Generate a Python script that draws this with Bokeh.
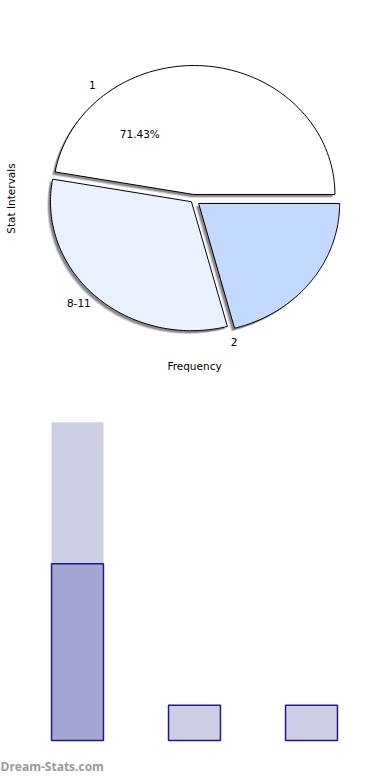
import numpy as np
from bokeh.plotting import figure
from bokeh.layouts import column
from bokeh.models import Range1d, FixedTicker, Title
from bokeh.core.properties import value
from bokeh.embed import file_html
from bokeh.resources import INLINE

# ---------------- data ----------------
pie_labels = ["1", "8-11", "2"]
pie_shares = [47.2, 31.9, 20.9]          # share of the drawn circle, percent
pie_colors = ["#FFFFFF", "#EAF1FE", "#C4D9FE"]

bar_factors = ["1", "8-11", "2"]
bar_freq = [5, 1, 1]
bar_back = [9, 0, 0]                      # light background bar behind the first column

FONT = "DejaVu Sans"

# ---------------- pie figure ----------------
p1 = figure(width=390, height=390, output_backend="svg", toolbar_location=None,
            x_range=Range1d(-155, 157), y_range=Range1d(-151, 153),
            min_border_left=38, min_border_right=40, min_border_top=46, min_border_bottom=40)
p1.outline_line_color = None
p1.grid.visible = False
for ax in (p1.xaxis[0], p1.yaxis[0]):
    ax.ticker = FixedTicker(ticks=[])
    ax.axis_line_color = None
    ax.major_tick_out = 0
    ax.major_tick_in = 0
    ax.minor_tick_out = 0
    ax.minor_tick_in = 0
    ax.major_label_text_font_size = "0px"
    ax.axis_label_text_font = FONT
    ax.axis_label_text_font_size = "10.5px"
    ax.axis_label_text_font_style = "normal"
    ax.axis_label_text_color = "#000000"
p1.xaxis.axis_label = "Frequency"
p1.xaxis.axis_label_standoff = 9
p1.yaxis.axis_label = "Stat Intervals"
p1.yaxis.axis_label_standoff = 22

RX, RY = 141, 129
explode = [5, 3, 6.5]
shares = np.array(pie_shares, dtype=float)
ends = np.cumsum(shares) / shares.sum() * 2 * np.pi
starts = np.concatenate([[0.0], ends[:-1]])

slice_xs, slice_ys = [], []
for a0, a1, ex in zip(starts, ends, explode):
    t = np.linspace(a0, a1, 90)
    mid = (a0 + a1) / 2
    ox, oy = ex * np.cos(mid), ex * np.sin(mid)
    slice_xs.append(np.concatenate([[0.0], RX * np.cos(t), [0.0]]) + ox)
    slice_ys.append(np.concatenate([[0.0], RY * np.sin(t), [0.0]]) + oy)

# shadow
for d, a in ((3.2, 0.3), (2.2, 0.55)):
    p1.patches([x - d for x in slice_xs], [y - d for y in slice_ys],
               fill_color="#555555", fill_alpha=a, line_color=None)
p1.patches(slice_xs, slice_ys, fill_color=pie_colors, line_color="#000000", line_width=1)

# labels
total = sum(bar_freq)
pct_text = f"{bar_freq[0] / total * 100:.2f}%"
lab_ang = np.deg2rad([129.0, 224.5, 284.6])
lab_r = 1.14
p1.text(x=list(RX * lab_r * np.cos(lab_ang)), y=list(RY * lab_r * np.sin(lab_ang)),
        text=pie_labels, text_font=value(FONT), text_font_size="10.5px",
        text_align="center", text_baseline="middle", text_color="#000000")
pa = np.deg2rad(127.0)
p1.text(x=[RX * 0.633 * np.cos(pa)], y=[RY * 0.633 * np.sin(pa)], text=[pct_text],
        text_font=value(FONT), text_font_size="10.5px",
        text_align="center", text_baseline="middle", text_color="#000000")

# ---------------- bar figure ----------------
idx = np.arange(len(bar_factors))
p2 = figure(width=390, height=390, output_backend="svg", toolbar_location=None,
            x_range=Range1d(-1 / 3, 7 / 3), y_range=Range1d(-0.283, 9.9),
            x_axis_location=None, y_axis_location=None,
            min_border_left=38, min_border_right=40, min_border_top=0, min_border_bottom=30)
p2.outline_line_color = None
p2.grid.visible = False

W = 0.444
p2.vbar(x=idx[:1], top=bar_back[:1], width=W, fill_color="#CDCDE4", line_color=None)
fills = ["#A3A6D1"] + ["#CDCDE4"] * (len(bar_freq) - 1)
p2.vbar(x=idx, top=bar_freq, width=W, fill_color=fills, line_color="#1A1A96", line_width=1.5)

p2.add_layout(Title(text="Dream-Stats.com", align="left", offset=-38, standoff=11,
                    text_font="Open Sans", text_font_size="12px", text_font_style="bold",
                    text_color="#9A9A9A"), "below")

layout = column(p1, p2, spacing=0)
open("out.html", "w").write(file_html(layout, INLINE))
